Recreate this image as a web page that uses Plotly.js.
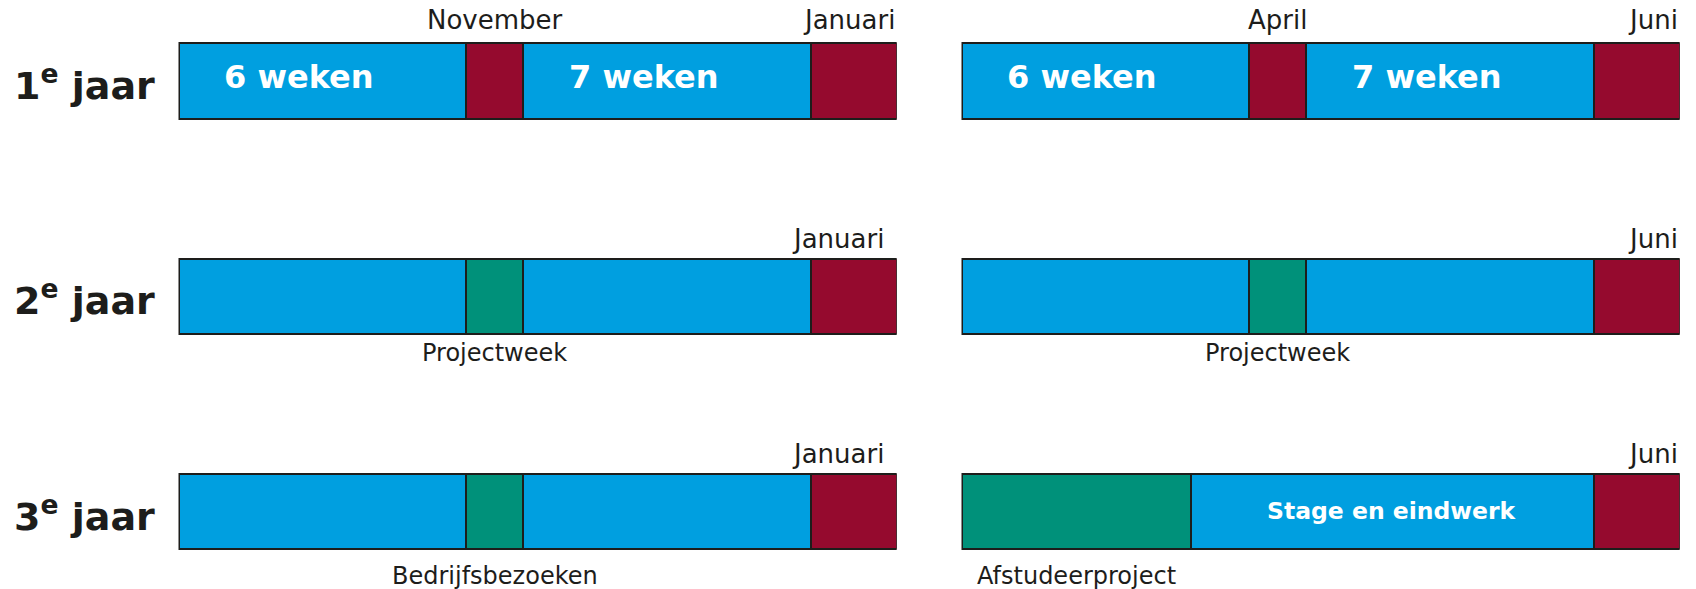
<!DOCTYPE html>
<html>
<head>
<meta charset="utf-8">
<script src="https://cdn.plot.ly/plotly-3.0.1.min.js"></script>
<style>
  html, body { margin: 0; padding: 0; background: #ffffff; }
  #chart { width: 1696px; height: 589px; }
</style>
</head>
<body>
<div id="chart"></div>
<script>
// ---- Data (durations in weeks) ----
const rowLabels = ['1<sup>e</sup> jaar', '2<sup>e</sup> jaar', '3<sup>e</sup> jaar'];
const rowPositions = [2, 1, 0];

// Semester 1 (September - Januari)
const sem1Durations = [[6, 1.2, 6, 1.8], [6, 1.2, 6, 1.8], [6, 1.2, 6, 1.8]];
const sem1Types = [['les', 'examen', 'les', 'examen'], ['les', 'project', 'les', 'examen'], ['les', 'project', 'les', 'examen']];
const sem1InsideText = [['6 weken', '', '7 weken', ''], ['', '', '', ''], ['', '', '', '']];
const sem1TopText = [['', 'November', '', 'Januari'], ['', '', '', 'Januari'], ['', '', '', 'Januari']];
const sem1BottomText = [['', '', '', ''], ['', 'Projectweek', '', ''], ['', 'Bedrijfsbezoeken', '', '']];

// Semester 2 (Februari - Juni)
const sem2Durations = [[6, 1.2, 6, 1.8], [6, 1.2, 6, 1.8], [4.8, 8.4, 1.8]];
const sem2Types = [['les', 'examen', 'les', 'examen'], ['les', 'project', 'les', 'examen'], ['project', 'les', 'examen']];
const sem2InsideText = [['6 weken', '', '7 weken', ''], ['', '', '', ''], ['', 'Stage en eindwerk', '']];
const sem2TopText = [['', 'April', '', 'Juni'], ['', '', '', 'Juni'], ['', '', 'Juni']];
const sem2BottomText = [['', '', '', ''], ['', 'Projectweek', '', ''], ['Afstudeerproject', '', '']];

// ---- Styles ----
const typeColors = { les: '#009FE0', examen: '#950A2E', project: '#00917A' };
const outline = '#1d1d1b';
const barWidth = 0.352;
const fontFam = 'DejaVu Sans, Verdana, sans-serif';
const topShiftY = [6, 3, 3];          // px offsets of month labels per row
const bottomShiftY = [-1, -3, -11];   // px offsets of notes below bars per row
const sem1TopShiftX = [0, -11, -11];
const sem2TopShiftX = [0, 0, 0];

const traces = [];
const annotations = [];

function buildSemester(durations, types, inside, top, bottom, xaxisName, xref, topShiftX) {
  const maxSeg = Math.max(...durations.map(d => d.length));
  for (let k = 0; k < maxSeg; k++) {
    const xs = [], ys = [], cols = [];
    durations.forEach((d, r) => {
      xs.push(k < d.length ? d[k] : null);
      ys.push(rowPositions[r]);
      cols.push(k < d.length ? typeColors[types[r][k]] : 'rgba(0,0,0,0)');
    });
    traces.push({
      type: 'bar', orientation: 'h', x: xs, y: ys, width: barWidth,
      xaxis: xaxisName, yaxis: 'y',
      marker: { color: cols, line: { color: outline, width: 2 } },
      hoverinfo: 'skip', showlegend: false
    });
  }
  durations.forEach((d, r) => {
    let start = 0;
    const total = d.reduce((a, b) => a + b, 0);
    d.forEach((len, k) => {
      const center = start + len / 2;
      const y = rowPositions[r];
      if (inside[r][k]) {
        const isShort = inside[r][k].indexOf('weken') >= 0;
        annotations.push({
          xref: xref, yref: 'y', x: isShort ? start + len * 0.42 : center, y: y,
          text: '<b>' + inside[r][k] + '</b>', showarrow: false,
          xanchor: 'center', yanchor: 'middle', yshift: isShort ? 4 : 1,
          font: { family: fontFam, size: isShort ? 32 : 23.5, color: '#ffffff' }
        });
      }
      if (top[r][k]) {
        const isLast = k === d.length - 1;
        annotations.push({
          xref: xref, yref: 'y', x: isLast ? total : center, y: y + barWidth / 2,
          text: top[r][k], showarrow: false,
          xanchor: isLast ? 'right' : 'center', yanchor: 'bottom',
          yshift: topShiftY[r], xshift: isLast ? topShiftX[r] : 0,
          font: { family: fontFam, size: 26, color: '#1d1d1b' }
        });
      }
      if (bottom[r][k]) {
        annotations.push({
          xref: xref, yref: 'y', x: center, y: y - barWidth / 2,
          text: bottom[r][k], showarrow: false,
          xanchor: 'center', yanchor: 'top', yshift: bottomShiftY[r],
          font: { family: fontFam, size: 24, color: '#1d1d1b' }
        });
      }
      start += len;
    });
  });
}

buildSemester(sem1Durations, sem1Types, sem1InsideText, sem1TopText, sem1BottomText, 'x', 'x', sem1TopShiftX);
buildSemester(sem2Durations, sem2Types, sem2InsideText, sem2TopText, sem2BottomText, 'x2', 'x2', sem2TopShiftX);

rowLabels.forEach((lab, r) => {
  annotations.push({
    xref: 'paper', yref: 'y', x: 157 / 1696, y: rowPositions[r],
    text: '<b>' + lab + '</b>', showarrow: false,
    xanchor: 'right', yanchor: 'middle', yshift: -2,
    font: { family: fontFam, size: 38, color: '#1d1d1b' }
  });
});

const layout = {
  width: 1696, height: 589,
  margin: { l: 0, r: 0, t: 0, b: 0 },
  paper_bgcolor: '#ffffff', plot_bgcolor: '#ffffff',
  barmode: 'stack',
  showlegend: false,
  xaxis: { domain: [178.5 / 1696, 896.7 / 1696], range: [0, 15], visible: false, fixedrange: true },
  xaxis2: { domain: [961.5 / 1696, 1679.7 / 1696], range: [0, 15], visible: false, fixedrange: true, anchor: 'y' },
  yaxis: { range: [-0.3597, 2.3773], visible: false, fixedrange: true },
  annotations: annotations
};

Plotly.newPlot('chart', traces, layout, { displayModeBar: false, staticPlot: true });
</script>
</body>
</html>
